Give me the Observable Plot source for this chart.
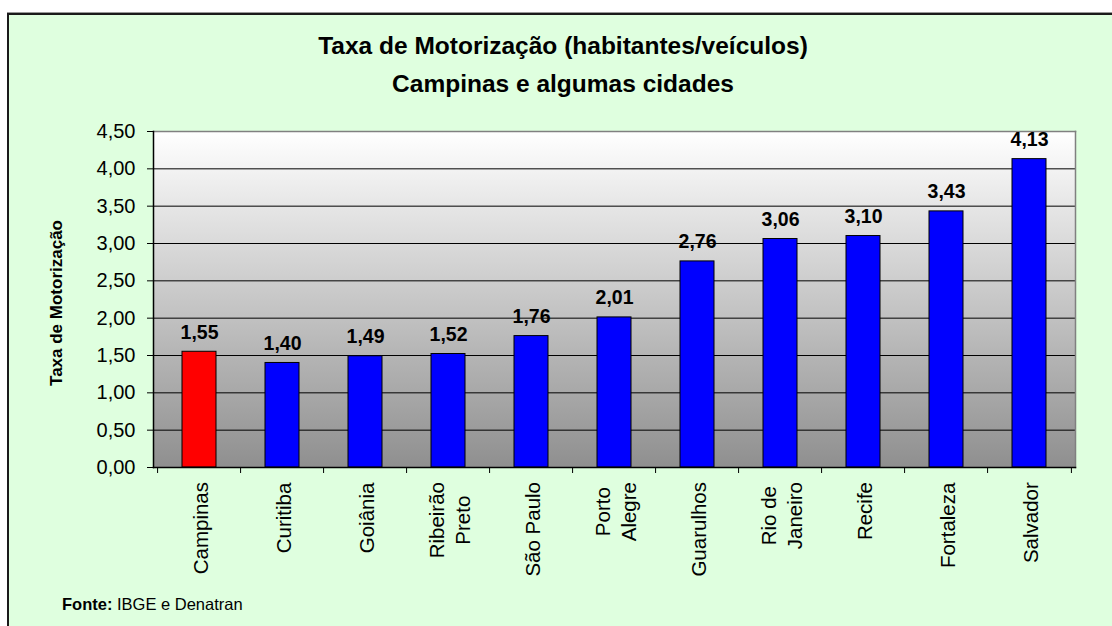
<!DOCTYPE html>
<html>
<head>
<meta charset="utf-8">
<script src="https://cdn.jsdelivr.net/npm/d3@7"></script>
<script src="https://cdn.jsdelivr.net/npm/@observablehq/plot@0.6"></script>
<style>
html, body { margin: 0; padding: 0; background: #fff; width: 1112px; height: 626px; overflow: hidden; font-family: "Liberation Sans", Arial, sans-serif; color: #000; }
#frame { position: absolute; left: 7px; top: 13px; width: 1200px; height: 700px; background: #DFFFDF; border-top: 2px solid #1a1a1a; border-left: 2px solid #1a1a1a; box-shadow: 0 -1px 0 #999; }
#title { position: absolute; left: 0; top: 27px; width: 1126px; text-align: center; font-weight: bold; font-size: 24.5px; line-height: 38px; }
#chart { position: absolute; left: 0; top: 100px; }
#ylabel { position: absolute; left: 56px; top: 303px; white-space: nowrap; font-weight: bold; font-size: 17px; line-height: 17px; transform: translate(-50%, -50%) rotate(-90deg); }
#caption { position: absolute; left: 62px; top: 594px; font-size: 16.5px; line-height: 20px; }
</style>
</head>
<body>
<div id="frame"></div>
<div id="title">Taxa de Motorização (habitantes/veículos)<br>Campinas e algumas cidades</div>
<div id="chart"></div>
<div id="ylabel">Taxa de Motorização</div>
<div id="caption"><b>Fonte:</b> IBGE e Denatran</div>
<script>
// ---- data ----
const cities = ["Campinas", "Curitiba", "Goiânia", "Ribeirão Preto", "São Paulo", "Porto Alegre", "Guarulhos", "Rio de Janeiro", "Recife", "Fortaleza", "Salvador"];
const cityLabels = ["Campinas", "Curitiba", "Goiânia", "Ribeirão\nPreto", "São Paulo", "Porto\nAlegre", "Guarulhos", "Rio de\nJaneiro", "Recife", "Fortaleza", "Salvador"];
const rates = [1.55, 1.40, 1.49, 1.52, 1.76, 2.01, 2.76, 3.06, 3.10, 3.43, 4.13];
const highlight = "Campinas";
const yTicks = [0, 0.5, 1.0, 1.5, 2.0, 2.5, 3.0, 3.5, 4.0, 4.5];

const data = cities.map((c, i) => ({ city: c, label: cityLabels[i], rate: rates[i], color: c === highlight ? "#FF0000" : "#0000FF" }));
const labelOf = Object.fromEntries(data.map(d => [d.city, d.label]));
const fmt = v => d3.format(".2f")(v).replace(".", ",");

// ---- layout ----
const W = 1112, H = 490;
const mL = 153, mR = 37, mT = 31, mB = 123;
const step = (W - mL - mR) / cities.length;

const gradient = () => {
  const g = d3.create("svg:g");
  const lg = g.append("defs").append("linearGradient")
    .attr("id", "bgGrad").attr("x1", 0).attr("y1", 0).attr("x2", 0).attr("y2", 1);
  lg.append("stop").attr("offset", 0).attr("stop-color", "#ffffff");
  lg.append("stop").attr("offset", 1).attr("stop-color", "#8f8f8f");
  return g.node();
};

const chart = Plot.plot({
  width: W,
  height: H,
  marginLeft: mL,
  marginRight: mR,
  marginTop: mT,
  marginBottom: mB,
  style: { fontFamily: "Liberation Sans, Arial, sans-serif", background: "transparent", color: "#000", overflow: "visible" },
  x: { domain: cities, paddingInner: 0.59, paddingOuter: 0.295, label: null },
  y: { domain: [0, 4.5], label: null },
  color: { type: "identity" },
  marks: [
    gradient,
    Plot.frame({ fill: "url(#bgGrad)" }),
    Plot.ruleY(yTicks.filter(t => t > 0 && t < 4.5), { stroke: "#000", strokeWidth: 1 }),
    Plot.frame({ anchor: "top", stroke: "#808080", strokeWidth: 1.5 }),
    Plot.frame({ anchor: "right", stroke: "#808080", strokeWidth: 1.5 }),
    Plot.barY(data, { x: "city", y: "rate", fill: "color", stroke: "#000", strokeWidth: 1 }),
    Plot.frame({ anchor: "left", stroke: "#000", strokeWidth: 1.5 }),
    Plot.frame({ anchor: "bottom", stroke: "#000", strokeWidth: 1.5 }),
    Plot.text(data, { x: "city", y: "rate", text: d => fmt(d.rate), dy: -13, lineAnchor: "bottom", fontWeight: "bold", fontSize: 19.5, fill: "#000" }),
    Plot.axisY({ ticks: yTicks, tickFormat: fmt, tickSize: 6, tickPadding: 12, fontSize: 20, label: null, stroke: "#000", fill: "#000" }),
    Plot.axisX({ tickSize: 6, fill: "none", label: null, stroke: "#000", dx: -step / 2 }),
    Plot.axisX([cities[cities.length - 1]], { tickSize: 6, fill: "none", label: null, stroke: "#000", dx: step / 2 }),
    Plot.axisX({ tickSize: 0, tickRotate: -90, tickPadding: 16, tickFormat: c => labelOf[c], textAnchor: "middle", lineAnchor: "middle", lineHeight: 1.27, fontSize: 20.5, label: null, fill: "#000" })
  ]
});

document.getElementById("chart").appendChild(chart);

// align the top of each rotated, multi-line category label to the same line
const labelTop = 482;
chart.querySelectorAll('[aria-label="x-axis tick label"] text').forEach(t => {
  const r = t.getBoundingClientRect();
  const delta = labelTop - r.top;
  const old = t.getAttribute("transform") || "";
  t.setAttribute("transform", `translate(0,${delta}) ${old}`);
});
</script>
</body>
</html>
